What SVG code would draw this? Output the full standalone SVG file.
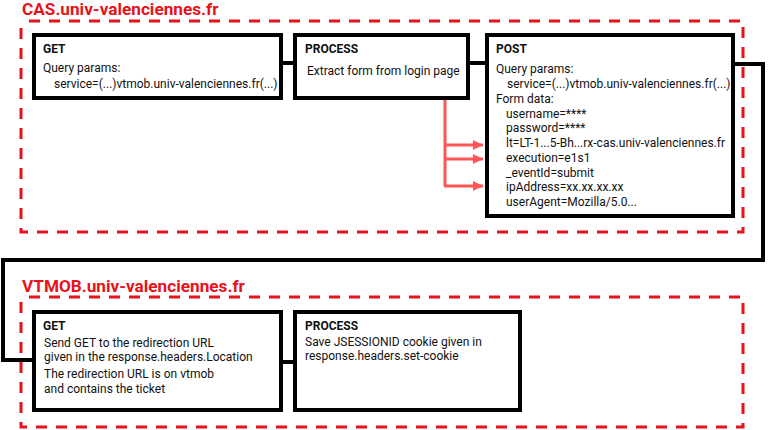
<svg xmlns="http://www.w3.org/2000/svg" width="770" height="430" viewBox="0 0 770 430">
<style>
.zone{fill:none;stroke:#e8121a;stroke-width:3;stroke-dasharray:11 9;stroke-dashoffset:-8}
.zlabel{font-family:Roboto,"Liberation Sans",sans-serif;font-weight:bold;font-size:17.2px;fill:#e8121a}
.box{fill:#fff;stroke:#000;stroke-width:4}
.t{font-family:Roboto,"Liberation Sans",sans-serif;font-size:12px;fill:#111}
.h{font-weight:bold}
.conn{fill:none;stroke:#000;stroke-width:4}
.red{fill:none;stroke:#ff5555;stroke-width:3}
</style>
<defs>
<marker id="ah" markerWidth="10" markerHeight="10" refX="10" refY="5" orient="auto" markerUnits="userSpaceOnUse">
<path d="M0,0 L10,5 L0,10 z" fill="#ff5555"/>
</marker>
</defs>
<rect width="770" height="430" fill="#fff"/>
<g id="zone-cas">
<rect class="zone" x="21" y="21" width="722" height="211"/>
<text class="zlabel" x="22" y="15">CAS.univ-valenciennes.fr</text>
</g>
<g id="zone-vtmob">
<rect class="zone" x="21" y="297" width="722" height="130"/>
<text class="zlabel" x="22" y="292">VTMOB.univ-valenciennes.fr</text>
</g>
<g id="connectors">
<path class="conn" d="M283,63 H293"/>
<path class="conn" d="M470,63 H485"/>
<path class="conn" d="M735,64 H763 V260 H3 V360 H32"/>
<path class="conn" d="M283,362 H293"/>
<path class="red" d="M445,100 V186"/>
<path class="red" d="M444,145 H483" marker-end="url(#ah)"/>
<path class="red" d="M444,159 H483" marker-end="url(#ah)"/>
<path class="red" d="M444,186 H483" marker-end="url(#ah)"/>
</g>
<g id="get1">
<rect class="box" x="34" y="35" width="247" height="63"/>
<text class="t h" x="43" y="53">GET</text>
<text class="t" x="43" y="72">Query params:</text>
<text class="t" x="54" y="88">service=(...)vtmob.univ-valenciennes.fr(...)</text>
</g>
<g id="process1">
<rect class="box" x="295" y="35" width="173" height="63"/>
<text class="t h" x="305" y="53">PROCESS</text>
<text class="t" x="307" y="75">Extract form from login page</text>
</g>
<g id="post">
<rect class="box" x="487" y="35" width="246" height="181"/>
<text class="t h" x="496" y="53">POST</text>
<text class="t" x="496" y="73">Query params:</text>
<text class="t" x="507" y="88">service=(...)vtmob.univ-valenciennes.fr(...)</text>
<text class="t" x="496" y="103">Form data:</text>
<text class="t" x="506" y="118">username=****</text>
<text class="t" x="506" y="132">password=****</text>
<text class="t" x="506" y="147">lt=LT-1...5-Bh...rx-cas.univ-valenciennes.fr</text>
<text class="t" x="506" y="162">execution=e1s1</text>
<text class="t" x="506" y="177">_eventId=submit</text>
<text class="t" x="506" y="191">ipAddress=xx.xx.xx.xx</text>
<text class="t" x="506" y="206">userAgent=Mozilla/5.0...</text>
</g>
<g id="get2">
<rect class="box" x="34" y="312" width="247" height="98"/>
<text class="t h" x="43" y="330">GET</text>
<text class="t" x="44" y="347">Send GET to the redirection URL</text>
<text class="t" x="44" y="361">given in the response.headers.Location</text>
<text class="t" x="44" y="378">The redirection URL is on vtmob</text>
<text class="t" x="44" y="393">and contains the ticket</text>
</g>
<g id="process2">
<rect class="box" x="295" y="312" width="225" height="98"/>
<text class="t h" x="305" y="330">PROCESS</text>
<text class="t" x="305" y="346">Save JSESSIONID cookie given in</text>
<text class="t" x="305" y="360">response.headers.set-cookie</text>
</g>
</svg>
